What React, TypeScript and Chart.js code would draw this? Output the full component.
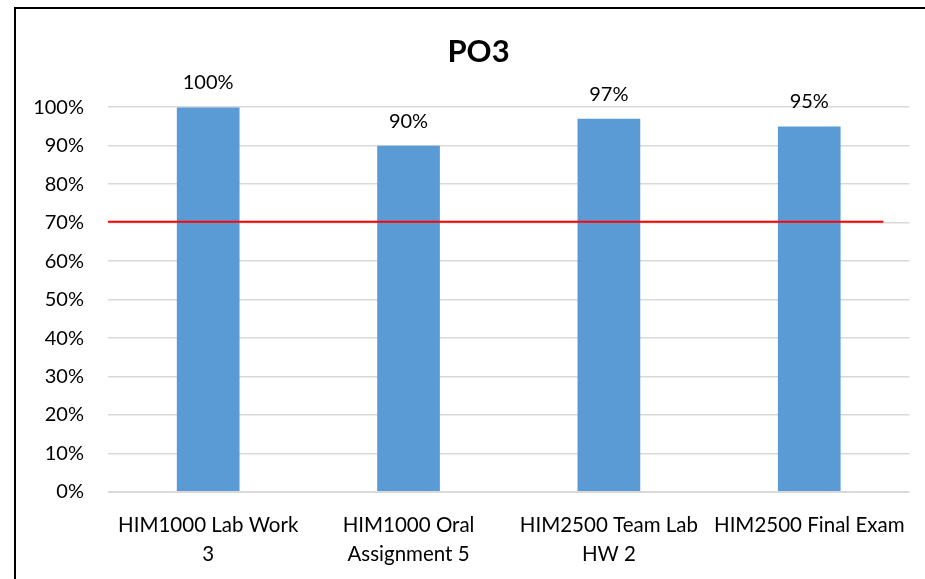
import React, { useEffect, useRef } from "react";
import { Chart, registerables } from "chart.js";

Chart.register(...registerables);

const TITLE = "PO3";
const CATEGORIES: string[][] = [
  ["HIM1000 Lab Work", "3"],
  ["HIM1000 Oral", "Assignment 5"],
  ["HIM2500 Team Lab", "HW 2"],
  ["HIM2500 Final Exam"],
];
const VALUES: number[] = [100, 90, 97, 95];
const THRESHOLD = 70;
const Y_MIN = 0;
const Y_MAX = 100;
const Y_STEP = 10;

const FONT = "Lato, 'Open Sans', sans-serif";

const labelPlugin = {
  id: "valueLabels",
  afterDatasetsDraw(chart: any) {
    const ctx = chart.ctx;
    const meta = chart.getDatasetMeta(0);
    ctx.save();
    ctx.font = `20px ${FONT}`;
    ctx.fillStyle = "#000000";
    ctx.textAlign = "center";
    ctx.textBaseline = "alphabetic";
    meta.data.forEach((bar: any, i: number) => {
      ctx.fillText(`${VALUES[i]}%`, bar.x, bar.y - 18);
    });
    ctx.restore();
  },
};

const thresholdPlugin = {
  id: "thresholdLine",
  afterDatasetsDraw(chart: any) {
    const ctx = chart.ctx;
    const y = chart.scales.y.getPixelForValue(THRESHOLD) - 1;
    const area = chart.chartArea;
    ctx.save();
    ctx.strokeStyle = "#FF0000";
    ctx.lineWidth = 2;
    ctx.beginPath();
    ctx.moveTo(area.left, y);
    ctx.lineTo(area.right - 26, y);
    ctx.stroke();
    ctx.restore();
  },
};

const titlePlugin = {
  id: "offsetTitle",
  afterDraw(chart: any) {
    const ctx = chart.ctx;
    ctx.save();
    ctx.font = `bold 31px ${FONT}`;
    ctx.fillStyle = "#000000";
    ctx.textAlign = "center";
    ctx.textBaseline = "middle";
    ctx.fillText(TITLE, chart.width / 2 + 16, 52);
    ctx.restore();
  },
};

export default function App() {
  const canvasRef = useRef<HTMLCanvasElement | null>(null);

  useEffect(() => {
    document.body.style.margin = "0";
    document.body.style.overflow = "hidden";
    const canvas = canvasRef.current;
    if (!canvas) return;
    const chart = new Chart(canvas, {
      type: "bar",
      data: {
        labels: CATEGORIES,
        datasets: [
          {
            data: VALUES,
            backgroundColor: "#5B9BD5",
            borderWidth: 0,
            barPercentage: 0.313,
            categoryPercentage: 1,
          },
        ],
      },
      options: {
        responsive: false,
        animation: false,
        devicePixelRatio: 1,
        layout: { padding: { left: 0, right: 12, top: 0, bottom: 0 } },
        plugins: {
          legend: { display: false },
          tooltip: { enabled: false },
          title: {
            display: true,
            text: TITLE,
            color: "rgba(0,0,0,0)",
            font: { family: FONT, size: 31, weight: "bold", lineHeight: 1.2 },
            padding: { top: 33, bottom: 37 },
          },
        },
        scales: {
          x: {
            grid: { display: false, drawTicks: false },
            border: { display: false },
            ticks: {
              color: "#000000",
              font: { family: FONT, size: 20.5, lineHeight: 1.42 },
              padding: 19,
              maxRotation: 0,
              autoSkip: false,
            },
            afterFit(scale: any) {
              scale.height = 87;
            },
          },
          y: {
            min: Y_MIN,
            max: Y_MAX,
            grid: {
              color: "#D9D9D9",
              lineWidth: (c: any) => (c.tick && c.tick.value === 0 ? 2 : 1.5),
              drawTicks: false,
            },
            border: { display: false },
            ticks: {
              stepSize: Y_STEP,
              color: "#000000",
              font: { family: FONT, size: 20 },
              padding: 24,
              callback: (v: any) => `${v}%`,
            },
            afterFit(scale: any) {
              scale.width = 108;
            },
          },
        },
      },
      plugins: [thresholdPlugin, labelPlugin, titlePlugin],
    });
    return () => chart.destroy();
  }, []);

  return (
    <div
      style={{
        position: "fixed",
        left: 0,
        top: 0,
        width: 925,
        height: 579,
        overflow: "hidden",
        background: "#ffffff",
      }}
    >
      <div
        style={{
          position: "absolute",
          left: 14,
          top: 7,
          width: 1000,
          height: 700,
          border: "2px solid #000000",
        }}
      />
      <canvas
        ref={canvasRef}
        width={925}
        height={579}
        style={{ position: "absolute", left: 0, top: 0, width: 925, height: 579 }}
      />
    </div>
  );
}
